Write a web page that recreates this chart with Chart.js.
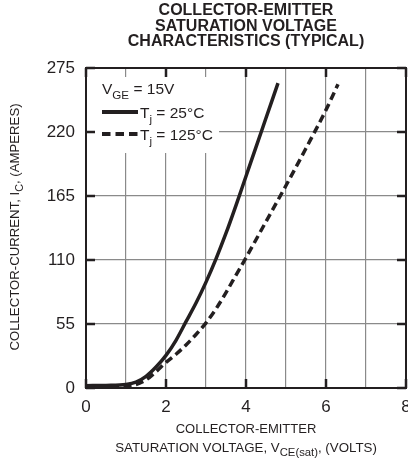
<!DOCTYPE html>
<html>
<head>
<meta charset="utf-8">
<script src="https://cdn.jsdelivr.net/npm/chart.js@4.4.1/dist/chart.umd.min.js"></script>
<style>
  html, body { margin: 0; padding: 0; background: #fff; overflow: hidden; }
  #wrap { position: relative; width: 408px; height: 461px; }
</style>
</head>
<body>
<div id="wrap"><canvas id="c"></canvas></div>
<script>
  // collector current vs VCE(sat)
  var vce25 = [0, 0.5, 1, 1.25, 1.5, 1.75, 2, 2.25, 2.5, 2.75, 3, 3.25, 3.5, 3.75, 4, 4.25, 4.5, 4.8];
  var ic25 = [2, 2.2, 3, 5, 10, 18, 28, 41, 57, 73, 91, 111, 133, 157, 182, 207, 232, 262];
  var vce125 = [0, 0.5, 1, 1.25, 1.5, 1.75, 2, 2.25, 2.5, 2.75, 3, 3.25, 3.5, 3.75, 4, 4.5, 5, 5.5, 6, 6.3];
  var ic125 = [2, 2, 2, 3, 7, 14, 22, 29, 37, 46, 56, 68, 82, 97, 112, 143, 174, 206, 239, 261];
  var xTicks = [0, 2, 4, 6, 8];
  var yTicks = [0, 55, 110, 165, 220, 275];
  var titleLines = ["COLLECTOR-EMITTER", "SATURATION VOLTAGE", "CHARACTERISTICS (TYPICAL)"];

  var FONT = '"Liberation Sans", Arial, Helvetica, sans-serif';
  var INK = "#231f20";

  function pts(xs, ys) {
    return xs.map(function (x, i) { return { x: x, y: ys[i] }; });
  }

  // draw text made of normal + subscript pieces
  function rich(ctx, segs, x, y, size, align, subRatio) {
    var r = subRatio || 0.75;
    var w = 0;
    segs.forEach(function (s) {
      ctx.font = (s.sub ? size * r : size) + "px " + FONT;
      s.w = ctx.measureText(s.t).width;
      w += s.w;
    });
    var cx = align === "center" ? x - w / 2 : x;
    ctx.textAlign = "left";
    ctx.textBaseline = "alphabetic";
    segs.forEach(function (s) {
      ctx.font = (s.sub ? size * r : size) + "px " + FONT;
      ctx.fillText(s.t, cx, y + (s.sub ? size * 0.3 : 0));
      cx += s.w;
    });
  }

  var decor = {
    id: "decor",
    afterDraw: function (chart) {
      var ctx = chart.ctx, a = chart.chartArea;
      var xs = chart.scales.x, ys = chart.scales.y;
      ctx.save();
      ctx.fillStyle = INK;
      ctx.strokeStyle = INK;

      // inward major ticks
      ctx.lineWidth = 2.5;
      xTicks.forEach(function (v) {
        var px = xs.getPixelForValue(v);
        ctx.beginPath();
        ctx.moveTo(px, a.top); ctx.lineTo(px, a.top + 9);
        ctx.moveTo(px, a.bottom); ctx.lineTo(px, a.bottom - 9);
        ctx.stroke();
      });
      yTicks.forEach(function (v) {
        var py = ys.getPixelForValue(v);
        ctx.beginPath();
        ctx.moveTo(a.left, py); ctx.lineTo(a.left + 9, py);
        ctx.moveTo(a.right, py); ctx.lineTo(a.right - 9, py);
        ctx.stroke();
      });

      // frame
      ctx.lineWidth = 2;
      ctx.strokeRect(a.left, a.top, a.right - a.left, a.bottom - a.top);

      // legend block
      var lx = a.left + 9, ly = a.top + 9;
      ctx.fillStyle = "#fff";
      ctx.fillRect(lx, ly, 124, 76);
      ctx.fillStyle = INK;
      rich(ctx, [{ t: "V" }, { t: "GE", sub: true }, { t: " = 15V" }], a.left + 16, a.top + 26, 15.5);
      ctx.lineWidth = 4;
      ctx.beginPath();
      ctx.moveTo(a.left + 16, a.top + 44); ctx.lineTo(a.left + 52, a.top + 44);
      ctx.stroke();
      ctx.setLineDash([8.5, 5]);
      ctx.beginPath();
      ctx.moveTo(a.left + 16, a.top + 66); ctx.lineTo(a.left + 52, a.top + 66);
      ctx.stroke();
      ctx.setLineDash([]);
      rich(ctx, [{ t: "T" }, { t: "j", sub: true }, { t: " = 25°C" }], a.left + 54, a.top + 50, 15.5);
      rich(ctx, [{ t: "T" }, { t: "j", sub: true }, { t: " = 125°C" }], a.left + 54, a.top + 72, 15.5);

      // title
      var cx = (a.left + a.right) / 2;
      ctx.font = "bold 16px " + FONT;
      ctx.textAlign = "center";
      ctx.textBaseline = "alphabetic";
      titleLines.forEach(function (t, i) {
        ctx.fillText(t, cx, 15 + i * 15.5);
      });

      // x axis title
      ctx.font = "13px " + FONT;
      ctx.fillText("COLLECTOR-EMITTER", cx, a.bottom + 45);
      rich(ctx, [{ t: "SATURATION VOLTAGE, V" }, { t: "CE(sat)", sub: true }, { t: ", (VOLTS)" }], cx, a.bottom + 64, 13.3, "center", 0.85);

      // y axis title
      ctx.translate(19, (a.top + a.bottom) / 2 - 1);
      ctx.rotate(-Math.PI / 2);
      rich(ctx, [{ t: "COLLECTOR-CURRENT, I" }, { t: "C", sub: true }, { t: ", (AMPERES)" }], 0, 0, 13.2, "center", 0.82);
      ctx.restore();
    }
  };

  new Chart(document.getElementById("c"), {
    type: "line",
    data: {
      datasets: [
        {
          label: "Tj = 25°C",
          data: pts(vce25, ic25),
          borderColor: INK,
          borderWidth: 3.5,
          pointRadius: 0,
          cubicInterpolationMode: "monotone",
          fill: false
        },
        {
          label: "Tj = 125°C",
          data: pts(vce125, ic125),
          borderColor: INK,
          borderWidth: 3.5,
          borderDash: [8, 4.5],
          pointRadius: 0,
          cubicInterpolationMode: "monotone",
          fill: false
        }
      ]
    },
    options: {
      responsive: true,
      maintainAspectRatio: false,
      animation: false,
      events: [],
      layout: { autoPadding: false, padding: { top: 68, right: 2, left: 0, bottom: 0 } },
      plugins: { legend: { display: false }, tooltip: { enabled: false }, title: { display: false } },
      scales: {
        x: {
          type: "linear",
          min: 0, max: 8,
          afterFit: function (s) { s.height = 73; s.paddingLeft = 0; s.paddingRight = 0; },
          ticks: {
            stepSize: 1,
            autoSkip: false,
            maxRotation: 0,
            padding: 9,
            color: INK,
            font: { family: FONT, size: 17 },
            callback: function (v) { return xTicks.indexOf(v) >= 0 ? String(v) : ""; }
          },
          grid: { color: "#8a8a8a", lineWidth: 1.2, drawTicks: false },
          border: { display: false }
        },
        y: {
          min: 0, max: 275,
          afterFit: function (s) { s.width = 86; s.paddingTop = 0; s.paddingBottom = 0; },
          ticks: {
            stepSize: 55,
            padding: 11,
            color: INK,
            font: { family: FONT, size: 17 }
          },
          grid: { color: "#8a8a8a", lineWidth: 1.2, drawTicks: false },
          border: { display: false }
        }
      }
    },
    plugins: [decor]
  });
</script>
</body>
</html>
